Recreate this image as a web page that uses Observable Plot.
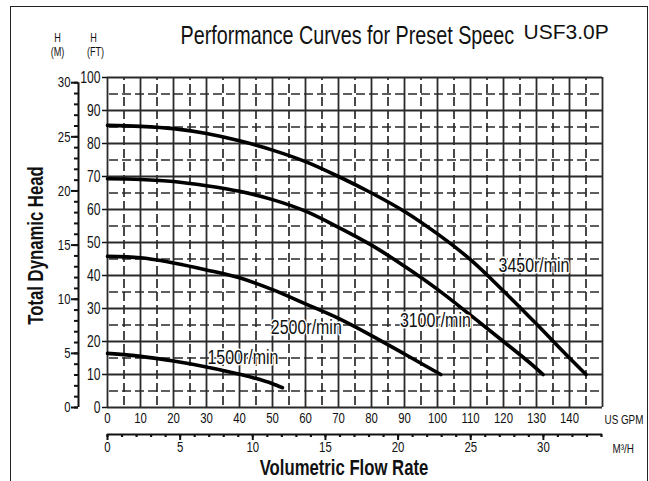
<!DOCTYPE html>
<html><head><meta charset="utf-8">
<script src="https://cdn.jsdelivr.net/npm/d3@7"></script>
<script src="https://cdn.jsdelivr.net/npm/@observablehq/plot@0.6"></script>
<style>
body{margin:0;background:#fff;}
#wrap{position:relative;width:649px;height:481px;overflow:hidden;background:#fff;}
#border{position:absolute;left:10px;top:6px;width:636px;height:520px;border:1.5px solid #222;pointer-events:none;}
</style></head><body>
<div id="wrap"><div id="chart"></div><div id="border"></div></div>
<script>
const SANS = "'Liberation Sans',Arial,Helvetica,sans-serif";
const FT_PER_M = 3.28084;
const GPM_PER_M3H = 4.40287;
const CONDENSE = 0.76;

// Tick labels
const gpmTicks = [0,10,20,30,40,50,60,70,80,90,100,110,120,130,140];
const ftTicks = [0,10,20,30,40,50,60,70,80,90,100];
const mMajor = [0,5,10,15,20,25,30];
const mMinor = d3.range(0,31,1);
const m3hMajor = [0,5,10,15,20,25,30];
const m3hMinor = d3.range(0,35,1);
const gridSolidX = d3.range(0,151,10), gridDashX = d3.range(5,150,10);
const gridSolidY = d3.range(0,101,10), gridDashY = d3.range(5,100,10);

// Curves (US GPM, head in ft)
const rpm3450 = [[0,85.5],[10,85.2],[20,84.5],[30,83],[40,80.8],[50,78],[60,74.5],[70,70],[80,65],[90,59.4],[100,52.6],[110,44.8],[120,35.3],[130,25.3],[140,15],[145,10]];
const rpm3100 = [[0,69.3],[10,69.1],[20,68.5],[30,67.2],[40,65.5],[50,63],[60,59.5],[70,54.6],[80,49.2],[90,42.8],[100,35.8],[110,28],[120,20],[130,11.8],[132,10]];
const rpm2500 = [[0,45.8],[10,45.4],[20,43.8],[30,41.7],[40,39.3],[50,35.7],[60,31.4],[70,27],[80,21.8],[90,16.2],[101,10]];
const rpm1500 = [[0,16.4],[10,15.5],[20,14.1],[30,12.3],[40,10.1],[50,7.2],[53,6]];

const curveNames = ["3450r/min","3100r/min","2500r/min","1500r/min"];
const labelGpm = [118.5, 88.6, 49.5, 30.3];
const labelFt = [43.2, 26.4, 24.2, 15.2];

const rows = [];
[rpm3450, rpm3100, rpm2500, rpm1500].forEach((c,i)=>c.forEach(([g,h])=>rows.push({rpm:curveNames[i], gpm:g, ft:h})));
const labels = curveNames.map((t,i)=>({text:t, gpm:labelGpm[i], ft:labelFt[i]}));

const grid = "#2a2a2a";
const chart = Plot.plot({
  width: 649, height: 481,
  marginLeft: 107, marginRight: 47, marginTop: 77, marginBottom: 74,
  x: {domain:[0,150], axis:null},
  y: {domain:[0,100], axis:null},
  style: {fontFamily: SANS, background: "white", color: "#111", overflow: "visible"},
  marks: [
    Plot.ruleX(gridDashX, {y1:0, y2:100, stroke:grid, strokeWidth:1.7, strokeDasharray:"9,4", strokeDashoffset:-2}),
    Plot.ruleY(gridDashY, {x1:0, x2:150, stroke:grid, strokeWidth:1.7, strokeDasharray:"9,4", strokeDashoffset:-2}),
    Plot.ruleX(gridSolidX, {y1:0, y2:100, stroke:grid, strokeWidth:1.8}),
    Plot.ruleY(gridSolidY, {x1:0, x2:150, stroke:grid, strokeWidth:1.8}),
    Plot.line(rows, {x:"gpm", y:"ft", z:"rpm", curve:"monotone-x", stroke:"#000", strokeWidth:3.6}),
    Plot.text(labels, {x:"gpm", y:"ft", text:"text", textAnchor:"start", fontSize:21, fill:"#111", stroke:"white", strokeWidth:3}),
    // ft axis
    Plot.axisY(ftTicks, {anchor:"left", tickSize:5, tickPadding:2, fontSize:16, strokeWidth:1.5, label:null, tickFormat:d=>d}),
    // m axis
    Plot.ruleX([0], {y1:0, y2:30*FT_PER_M, dx:-29, stroke:"#111", strokeWidth:2}),
    Plot.axisY(mMinor.map(m=>m*FT_PER_M), {anchor:"left", dx:-29, tickSize:4, strokeWidth:2, fill:"none", label:null}),
    Plot.axisY(mMajor.map(m=>m*FT_PER_M), {anchor:"left", dx:-29, tickSize:7, tickPadding:1, strokeWidth:2, fontSize:15, label:null, tickFormat:d=>Math.round(d/FT_PER_M)}),
    // gpm axis
    Plot.axisX(gpmTicks, {anchor:"bottom", tickSize:0, tickPadding:5, fontSize:15, label:null, tickFormat:d=>d}),
    // m3/h axis
    Plot.ruleY([0], {x1:0, x2:150, dy:27, stroke:"#111", strokeWidth:2}),
    Plot.axisX(m3hMinor.map(v=>v*GPM_PER_M3H), {anchor:"bottom", dy:27, tickSize:3, strokeWidth:2.2, fill:"none", label:null}),
    Plot.axisX(m3hMajor.map(v=>v*GPM_PER_M3H), {anchor:"bottom", dy:27, tickSize:6, tickPadding:1, strokeWidth:2, fontSize:15, label:null, tickFormat:d=>Math.round(d/GPM_PER_M3H)}),
    // unit labels and titles
    Plot.text(["US GPM"], {frameAnchor:"bottom-right", dx:2, dy:12, textAnchor:"start", lineAnchor:"middle", fontSize:13}),
    Plot.text(["M³/H"], {frameAnchor:"bottom-right", dx:10, dy:41, textAnchor:"start", lineAnchor:"middle", fontSize:13}),
    Plot.text(["Volumetric Flow Rate"], {frameAnchor:"bottom", dx:-11, dy:60, textAnchor:"middle", lineAnchor:"middle", fontSize:22, fontWeight:"bold"}),
    Plot.text(["Total Dynamic Head"], {frameAnchor:"left", dx:-72, dy:3, rotate:-90, textAnchor:"middle", lineAnchor:"middle", fontSize:22, fontWeight:"bold"}),
    Plot.text(["H"], {frameAnchor:"top-left", dx:-50, dy:-39, textAnchor:"middle", lineAnchor:"middle", fontSize:12}),
    Plot.text(["(M)"], {frameAnchor:"top-left", dx:-50, dy:-25, textAnchor:"middle", lineAnchor:"middle", fontSize:12}),
    Plot.text(["H"], {frameAnchor:"top-left", dx:-14, dy:-39, textAnchor:"middle", lineAnchor:"middle", fontSize:12}),
    Plot.text(["(FT)"], {frameAnchor:"top-left", dx:-12, dy:-25, textAnchor:"middle", lineAnchor:"middle", fontSize:12}),
    Plot.text(["Performance Curves for Preset Speec"], {frameAnchor:"top-left", dx:73, dy:-42, textAnchor:"start", lineAnchor:"middle", fontSize:26}),
    Plot.text(["USF3.0P"], {frameAnchor:"top-left", dx:416, dy:-45, textAnchor:"start", lineAnchor:"middle", fontSize:21})
  ]
});
document.getElementById("chart").appendChild(chart);
// Narrow (condensed) lettering like the reference's Helvetica Condensed:
// squeeze each label horizontally around its own anchor point.
d3.select(chart).selectAll("text").each(function(){
  if (this.textContent === "USF3.0P") return;
  const t = this.getAttribute("transform");
  if (t !== null) {
    this.setAttribute("transform", `${t} scale(${CONDENSE},1)`);
  } else {
    const len = this.getComputedTextLength();
    if (len > 0) {
      this.setAttribute("textLength", (len*CONDENSE).toFixed(2));
      this.setAttribute("lengthAdjust", "spacingAndGlyphs");
    }
  }
});
</script>
</body></html>
